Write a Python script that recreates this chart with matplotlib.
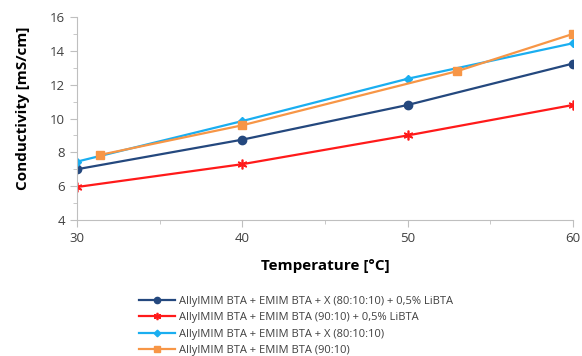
import numpy as np
import matplotlib.pyplot as plt
from matplotlib.ticker import MultipleLocator

plt.rcParams['font.family'] = ['Open Sans', 'DejaVu Sans']

temp = [30, 40, 50, 60]
cond_x_li = [7.0, 8.75, 10.8, 13.25]
cond_li = [5.95, 7.3, 9.0, 10.8]
cond_x = [7.45, 9.85, 12.35, 14.45]
temp_plain = [31.4, 40, 53.0, 60]
cond_plain = [7.85, 9.6, 12.8, 15.0]

labels = ['AllylMIM BTA + EMIM BTA + X (80:10:10) + 0,5% LiBTA',
          'AllylMIM BTA + EMIM BTA (90:10) + 0,5% LiBTA',
          'AllylMIM BTA + EMIM BTA + X (80:10:10)',
          'AllylMIM BTA + EMIM BTA (90:10)']

fig = plt.figure(figsize=(5.82, 3.56), dpi=100)
ax = fig.add_axes([77/582, 1 - 220/356, 496/582, 203/356])

ax.plot(temp, cond_x_li, color='#24487e', marker='o', ms=6, lw=1.6, label=labels[0])
ax.plot(temp, cond_li, color='#ff1a1a', marker=(6, 2, 0), ms=7, mew=1.2, lw=1.6, label=labels[1])
ax.plot(temp, cond_x, color='#1aaef0', marker='D', ms=4.5, lw=1.6, label=labels[2])
ax.plot(temp_plain, cond_plain, color='#f79646', marker='s', ms=6, lw=1.6, label=labels[3])

ax.set_xlim(30, 60)
ax.set_ylim(4, 16)
ax.xaxis.set_major_locator(MultipleLocator(10))
ax.xaxis.set_minor_locator(MultipleLocator(5))
ax.yaxis.set_major_locator(MultipleLocator(2))
ax.yaxis.set_minor_locator(MultipleLocator(1))
for s in ['top', 'right']:
    ax.spines[s].set_visible(False)
for s in ['left', 'bottom']:
    ax.spines[s].set_color('#bfbfbf')
ax.tick_params(which='both', colors='#bfbfbf', labelcolor='#404040', labelsize=9.5)
ax.tick_params(which='major', length=5)
ax.tick_params(which='minor', length=3)
ax.set_xlabel('Temperature [°C]', fontsize=11, fontweight='bold', labelpad=10)
ax.set_ylabel('Conductivity [mS/cm]', fontsize=11, fontweight='bold', labelpad=8)
ax.yaxis.set_label_coords(-0.095, 0.55)

fig.legend(loc='upper left', bbox_to_anchor=(133/582, 1 - 290/356), frameon=False,
           fontsize=8, handlelength=3.3, handletextpad=0.3, labelspacing=0.5,
           borderpad=0, labelcolor='#404040', markerscale=0.75)

fig.savefig('out.png', dpi=100)
